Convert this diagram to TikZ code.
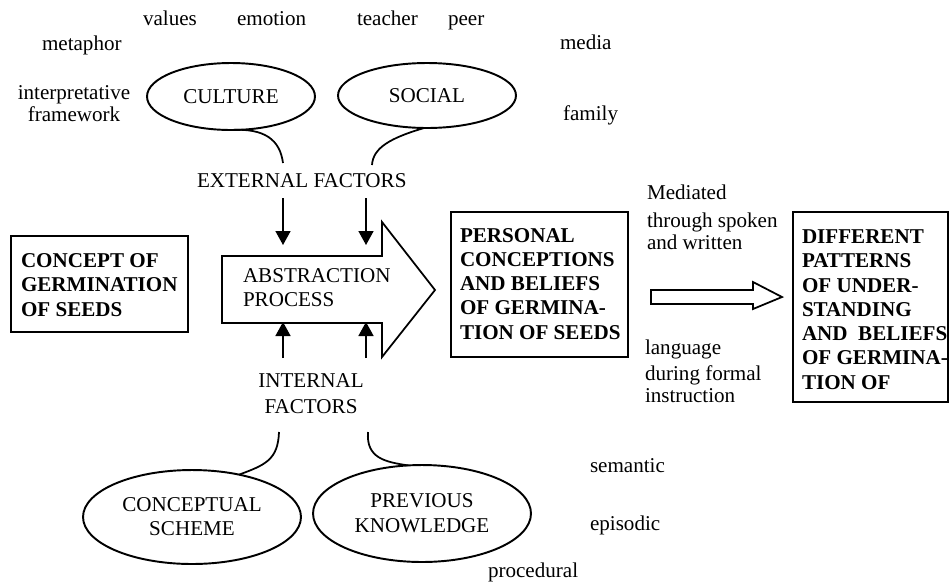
\documentclass[tikz,border=0pt]{standalone}
\usepackage{fontspec}
\setmainfont{Liberation Serif}
\usetikzlibrary{arrows.meta,shapes.geometric,fit}

\begin{document}
\begin{tikzpicture}[x=0.02cm,y=-0.02cm,
  every node/.style={inner sep=0pt, outer sep=0pt, font=\fontsize{12}{13.7}\selectfont},
  word/.style={anchor=base west},
  boxtext/.style={anchor=base west, align=left, font=\fontsize{12}{13.7}\selectfont\bfseries},
  framebox/.style={draw, line width=1pt, inner sep=0pt},
  oval/.style={draw, ellipse, line width=1.1pt, align=center, inner sep=0pt},
  link/.style={line width=1pt},
  push/.style={line width=0.9pt, -{Triangle[width=0.3cm,length=0.28cm]}},
  outline/.style={line width=1pt, line join=miter}
]
\useasboundingbox (0,0) rectangle (952,582);

% surrounding words (multi-line nodes are placed by their last baseline)
\node[word] (values)  at (143,25) {values};
\node[word] (emotion) at (237,25) {emotion};
\node[word] (teacher) at (357,25) {teacher};
\node[word] (peer)    at (448,25) {peer};
\node[word] (metaphor) at (42,50) {metaphor};
\node[word] (media)   at (560,49) {media};
\node[anchor=base, align=center, font=\fontsize{12}{12.5}\selectfont] (interp) at (74,121) {interpretative\\framework};
\node[word] (family)  at (563,120) {family};

% external factors
\node[oval, minimum width=3.36cm, minimum height=1.34cm] (culture) at (231,96.5) {CULTURE};
\node[oval, minimum width=3.56cm, minimum height=1.30cm] (social) at (427,95.5) {SOCIAL};
\node[word] (ext) at (197,187) {EXTERNAL FACTORS};

\coordinate (extL) at (283,163);
\coordinate (extR) at (372,165);
\draw[link] (culture.south) .. controls (265,128) and (280,140) .. (extL);
\draw[link] (social.-95) .. controls (390,138) and (373,148) .. (extR);

% abstraction block arrow
\coordinate (a1) at (222,256);
\coordinate (a2) at (382,256);
\coordinate (a3) at (382,222);
\coordinate (a4) at (435,290);
\coordinate (a5) at (382,357);
\coordinate (a6) at (382,323);
\coordinate (a7) at (222,323);
\draw[outline] (a1) -- (a2) -- (a3) -- (a4) -- (a5) -- (a6) -- (a7) -- cycle;
\node[anchor=base west, align=left, font=\fontsize{12}{13.6}\selectfont] (abs) at (243,306) {ABSTRACTION\\PROCESS};

% arrows from the factors into the process
\coordinate (dn1s) at (283,198); \coordinate (dn1e) at (283,245);
\coordinate (dn2s) at (366,198); \coordinate (dn2e) at (366,245);
\coordinate (up1s) at (283,358); \coordinate (up1e) at (283,322);
\coordinate (up2s) at (366,358); \coordinate (up2e) at (366,322);
\draw[push] (dn1s) -- (dn1e);
\draw[push] (dn2s) -- (dn2e);
\draw[push] (up1s) -- (up1e);
\draw[push] (up2s) -- (up2e);

% internal factors
\node[anchor=base, align=center, font=\fontsize{12}{14.7}\selectfont] (int) at (311,413) {INTERNAL\\FACTORS};
\node[oval, minimum width=4.36cm, minimum height=1.88cm, font=\fontsize{12}{13.6}\selectfont] (scheme) at (192,517) {CONCEPTUAL\\SCHEME};
\node[oval, minimum width=4.36cm, minimum height=1.94cm, font=\fontsize{12}{14.2}\selectfont] (prev) at (422,513.5) {PREVIOUS\\KNOWLEDGE};

\coordinate (intL) at (279,432);
\coordinate (intR) at (368,432);
\draw[link] (intL) .. controls (278,460) and (265,465) .. (scheme.42);
\draw[link] (intR) .. controls (366,458) and (385,462) .. (prev.106);

\node[word] (semantic)   at (590,472) {semantic};
\node[word] (episodic)   at (590,530) {episodic};
\node[word] (procedural) at (488,577) {procedural};

% concept boxes
\node[framebox, fit={(11,236)(188,332)}] (concept) {};
\node[boxtext] (conceptT) at (21,316) {CONCEPT OF\\GERMINATION\\OF SEEDS};

\node[framebox, fit={(451,212)(628,357)}] (personal) {};
\node[boxtext] (personalT) at (460,339) {PERSONAL\\CONCEPTIONS\\AND BELIEFS\\OF GERMINA-\\TION OF SEEDS};

\node[framebox, fit={(793,212)(948,402)}] (patterns) {};
\node[boxtext, font=\fontsize{12}{13.8}\selectfont\bfseries] (patternsT) at (802,389) {DIFFERENT\\PATTERNS\\OF UNDER-\\STANDING\\AND\ \ BELIEFS\\OF GERMINA-\\TION OF};

% mediation arrow
\coordinate (m1) at (651,290);
\coordinate (m2) at (753,290);
\coordinate (m3) at (753,282);
\coordinate (m4) at (782,297);
\coordinate (m5) at (753,309);
\coordinate (m6) at (753,304);
\coordinate (m7) at (651,304);
\draw[outline] (m1) -- (m2) -- (m3) -- (m4) -- (m5) -- (m6) -- (m7) -- cycle;

\node[word] (med1) at (647,199) {Mediated};
\node[word] (med2) at (647,227) {through spoken};
\node[word] (med3) at (647,249) {and written};
\node[word] (lang1) at (645,354) {language};
\node[word] (lang2) at (645,380) {during formal};
\node[word] (lang3) at (645,402) {instruction};
\end{tikzpicture}
\end{document}
